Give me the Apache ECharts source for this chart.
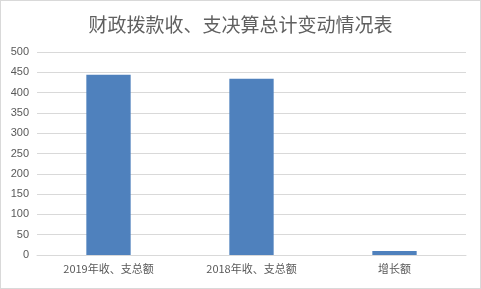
<!DOCTYPE html>
<html><head><meta charset="utf-8">
<script src="https://cdn.jsdelivr.net/npm/echarts@6/dist/echarts.min.js"></script>
<style>html,body{margin:0;padding:0;background:#fff}#c{width:479px;height:287px;border:1px solid #d9d9d9}</style>
</head><body><div id="c"></div>
<script>
const categories = ['2019年收、支总额', '2018年收、支总额', '增长额'];
const values = [444, 434, 10];
const yTicks = { min: 0, max: 500, interval: 50 };
const chart = echarts.init(document.getElementById('c'));
chart.setOption({
  animation: false,
  title: { text: '财政拨款收、支决算总计变动情况表', left: 'center', top: 9,
    textStyle: { fontFamily: 'Noto Sans CJK SC', fontSize: 19, fontWeight: 'normal', color: '#606060' } },
  grid: { left: 36, right: 14, top: 51, bottom: 33 },
  xAxis: { type: 'category', data: categories,
    axisLine: { lineStyle: { color: '#d9d9d9' } }, axisTick: { show: false },
    axisLabel: { color: '#595959', fontSize: 11, fontFamily: 'Noto Sans CJK SC', margin: 8 } },
  yAxis: { type: 'value', min: yTicks.min, max: yTicks.max, interval: yTicks.interval,
    axisLine: { show: false }, axisTick: { show: false },
    axisLabel: { color: '#595959', fontSize: 11, fontFamily: 'Liberation Sans', margin: 8 },
    splitLine: { lineStyle: { color: '#d9d9d9' } } },
  series: [{ type: 'bar', data: values, barWidth: '31%', itemStyle: { color: '#4f81bd' } }]
});
</script></body></html>
